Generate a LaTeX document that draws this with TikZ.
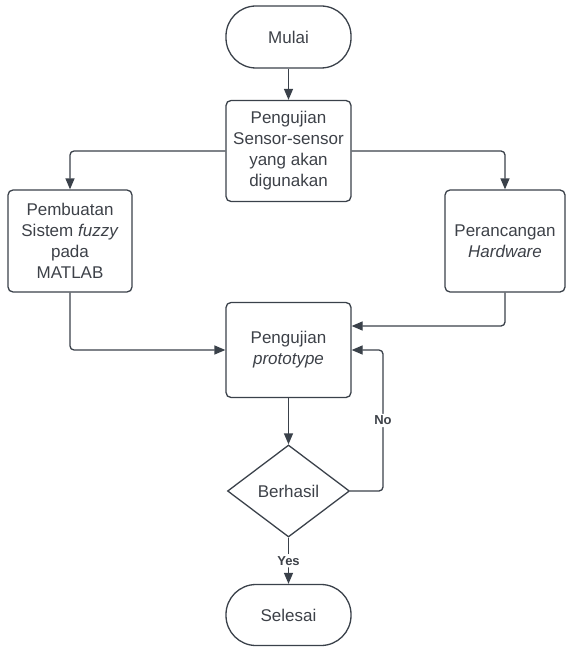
\documentclass[tikz,border=0pt]{standalone}
\usepackage{fontspec}
\setmainfont{Liberation Sans}
\usetikzlibrary{arrows.meta,shapes.geometric}
\definecolor{linegray}{HTML}{3A414A}
\definecolor{textgray}{HTML}{3D4148}

\begin{document}
\begin{tikzpicture} [x = 1pt, y = -1pt,
	every node/.style = {text = textgray, font = \fontsize{17}{21}\selectfont},
	terminal/.style = {draw = linegray, line width = 1.3pt, rounded corners = 30pt, minimum width = 125pt, minimum height = 62pt, inner sep = 0pt},
	process/.style = {draw = linegray, line width = 1.3pt, rounded corners = 5pt, minimum width = 125pt, minimum height = 98pt, inner sep = 0pt, align = center},
	decision/.style = {draw = linegray, line width = 1.3pt, diamond, minimum width = 122pt, minimum height = 92pt, inner sep = 0pt},
	flow/.style = {draw = linegray, line width = 1.3pt, rounded corners = 4pt, -{Triangle[length = 11pt, width = 9pt]}},
	answer/.style = {fill = white, inner sep = 2pt, font = \fontsize{13}{15}\selectfont\bfseries}]
	\useasboundingbox (0,0) rectangle (566,647);
	\node [terminal] (mulai) at (288.5,37) {Mulai};
	\node [process, minimum height = 101pt] (sensor) at (288.5,151) {Pengujian\\Sensor-sensor\\yang akan\\digunakan};
	\node [process, minimum width = 124pt, minimum height = 102pt] (fuzzy) at (70,241) {Pembuatan\\Sistem \textit{fuzzy}\\pada\\MATLAB};
	\node [process, minimum width = 120pt, minimum height = 102pt] (hardware) at (505,241) {Perancangan\\\textit{Hardware}};
	\node [process, minimum height = 95pt] (prototype) at (288.5,350) {Pengujian\\\textit{prototype}};
	\node [decision] (berhasil) at (288.5,491) {Berhasil};
	\node [terminal, minimum height = 61pt] (selesai) at (288.5,615) {Selesai};
	\coordinate (noturn) at (383,491);
	% arrows
	\draw [flow] (mulai) -- (sensor);
	\draw [flow] (sensor.west) -| (fuzzy.north);
	\draw [flow] (sensor.east) -| (hardware.north);
	\draw [flow] (fuzzy.south) |- (prototype.west);
	\draw [flow] (hardware.south) |- ([yshift = 24pt]prototype.east);
	\draw [flow] (prototype) -- (berhasil);
	\draw [flow] (berhasil.east) -- (noturn) -- node [answer] {No} (noturn |- prototype.east) -- (prototype.east);
	\draw [flow] (berhasil) -- node [answer] {Yes} (selesai);
\end{tikzpicture}
\end{document}
